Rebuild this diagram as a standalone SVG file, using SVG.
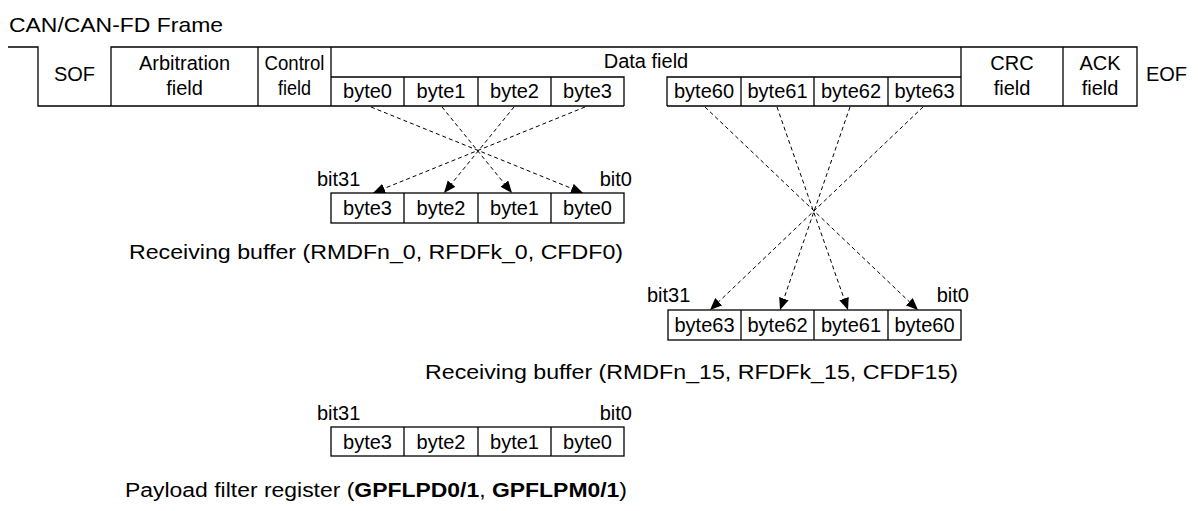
<svg xmlns="http://www.w3.org/2000/svg" width="1198" height="511" viewBox="0 0 1198 511">
<style>
.ln{stroke:#000;stroke-width:1.3;fill:none}
.bx{fill:#fff;stroke:#000;stroke-width:1.3}
.dl{stroke:#000;stroke-width:1;fill:none;stroke-dasharray:4 3}
text{font-family:"Liberation Sans",Arial,Helvetica,sans-serif;font-size:20px;fill:#000}
.c{text-anchor:middle}
.e{text-anchor:end}
.b{font-weight:bold}
</style>
<defs>
<marker id="ah" markerUnits="userSpaceOnUse" markerWidth="13" markerHeight="11" refX="12" refY="5" orient="auto">
<path d="M0,0 L12,5 L0,10 Z" fill="#000"/>
</marker>
</defs>
<rect width="1198" height="511" fill="#fff"/>
<text id="title" x="9" y="32" style="font-size:21px" textLength="214" lengthAdjust="spacingAndGlyphs">CAN/CAN-FD Frame</text>

<g id="frame">
<path class="ln" d="M8,47 H38 V106 H624 M667,106 H1137 V47 H111 V106 M258,47 V106 M331,47 V106 M961,47 V106 M1063,47 V106"/>
<g id="sof"><text class="c" x="74.5" y="81">SOF</text></g>
<g id="arbitration"><text class="c" x="184.5" y="70">Arbitration</text><text class="c" x="184.5" y="95">field</text></g>
<g id="control"><text class="c" x="294.5" y="70" textLength="60" lengthAdjust="spacingAndGlyphs">Control</text><text class="c" x="294.5" y="95" textLength="33" lengthAdjust="spacingAndGlyphs">field</text></g>
<g id="datafield">
<text class="c" x="646" y="68">Data field</text>
<path class="ln" d="M331,77 H624 V106 M404,77 V106 M478,77 V106 M551,77 V106 M667,106 V77 H961 M741,77 V106 M814,77 V106 M888,77 V106"/>
<text class="c" x="367.5" y="98">byte0</text>
<text class="c" x="441" y="98">byte1</text>
<text class="c" x="514.5" y="98">byte2</text>
<text class="c" x="587.5" y="98">byte3</text>
<text class="c" x="704" y="98">byte60</text>
<text class="c" x="777.5" y="98">byte61</text>
<text class="c" x="851" y="98">byte62</text>
<text class="c" x="924.5" y="98">byte63</text>
</g>
<g id="crc"><text class="c" x="1012" y="70">CRC</text><text class="c" x="1012" y="95">field</text></g>
<g id="ack"><text class="c" x="1100" y="70">ACK</text><text class="c" x="1100" y="95">field</text></g>
<g id="eof"><text class="c" x="1166.5" y="81">EOF</text></g>
</g>

<g id="buffer0">
<rect class="bx" x="331" y="193" width="293" height="30"/>
<path class="ln" d="M404,193 V223 M478,193 V223 M551,193 V223"/>
<text class="c" x="367.5" y="215">byte3</text>
<text class="c" x="441" y="215">byte2</text>
<text class="c" x="514.5" y="215">byte1</text>
<text class="c" x="587.5" y="215">byte0</text>
<text x="317" y="186">bit31</text>
<text class="e" x="632" y="186">bit0</text>
<text x="129" y="259" textLength="494" lengthAdjust="spacingAndGlyphs">Receiving buffer (RMDFn_0, RFDFk_0, CFDF0)</text>
</g>

<g id="buffer15">
<rect class="bx" x="668" y="310" width="293" height="30"/>
<path class="ln" d="M741,310 V340 M814,310 V340 M888,310 V340"/>
<text class="c" x="704.5" y="332">byte63</text>
<text class="c" x="777.5" y="332">byte62</text>
<text class="c" x="851" y="332">byte61</text>
<text class="c" x="924.5" y="332">byte60</text>
<text x="647" y="302">bit31</text>
<text class="e" x="969" y="302">bit0</text>
<text x="425" y="379" textLength="533" lengthAdjust="spacingAndGlyphs">Receiving buffer (RMDFn_15, RFDFk_15, CFDF15)</text>
</g>

<g id="payloadfilter">
<rect class="bx" x="331" y="427" width="293" height="29"/>
<path class="ln" d="M404,427 V456 M478,427 V456 M551,427 V456"/>
<text class="c" x="367.5" y="449">byte3</text>
<text class="c" x="441" y="449">byte2</text>
<text class="c" x="514.5" y="449">byte1</text>
<text class="c" x="587.5" y="449">byte0</text>
<text x="317" y="420">bit31</text>
<text class="e" x="632" y="420">bit0</text>
<text x="125" y="497" textLength="502" lengthAdjust="spacingAndGlyphs">Payload filter register (<tspan class="b">GPFLPD0/1</tspan>, <tspan class="b">GPFLPM0/1</tspan>)</text>
</g>

<g id="connectors">
<line class="dl" x1="371" y1="107" x2="583" y2="193" marker-end="url(#ah)"/>
<line class="dl" x1="442" y1="107" x2="512" y2="193" marker-end="url(#ah)"/>
<line class="dl" x1="514" y1="107" x2="444" y2="193" marker-end="url(#ah)"/>
<line class="dl" x1="585" y1="107" x2="373" y2="193" marker-end="url(#ah)"/>
<line class="dl" x1="705" y1="107" x2="918" y2="310" marker-end="url(#ah)"/>
<line class="dl" x1="777" y1="107" x2="848" y2="310" marker-end="url(#ah)"/>
<line class="dl" x1="850" y1="107" x2="780" y2="310" marker-end="url(#ah)"/>
<line class="dl" x1="923" y1="107" x2="710" y2="310" marker-end="url(#ah)"/>
</g>
</svg>
